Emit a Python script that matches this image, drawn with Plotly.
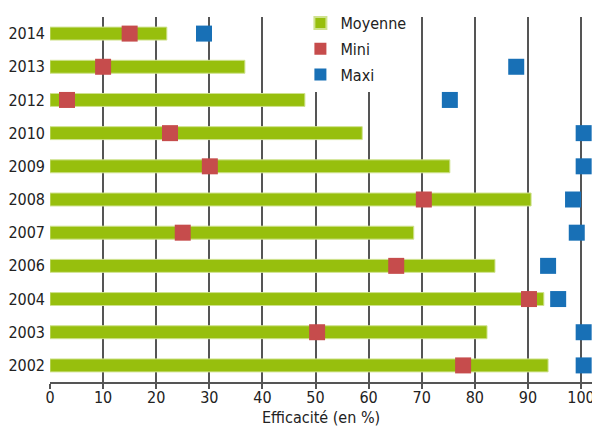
import plotly.graph_objects as go

years = ["2014", "2013", "2012", "2010", "2009", "2008", "2007", "2006", "2004", "2003", "2002"]
moyenne = [22, 36.7, 48, 58.8, 75.3, 90.6, 68.5, 83.8, 93, 82.3, 93.8]
mini = [15, 10, 3.2, 22.6, 30.1, 70.4, 25, 65.2, 90.2, 50.3, 77.8]
maxi = [29, 87.8, 75.3, 100.5, 100.5, 98.5, 99.2, 93.8, 95.7, 100.5, 100.5]
x_ticks = [0, 10, 20, 30, 40, 50, 60, 70, 80, 90, 100]

FONT = "DejaVu Sans Condensed, Liberation Sans Narrow, Roboto, sans-serif"
GREEN = "#97bf0d"
RED = "#c64c4c"
BLUE = "#1870b6"

fig = go.Figure()
fig.add_trace(go.Bar(
    x=moyenne, y=years, orientation="h", name="Moyenne",
    width=0.39, marker=dict(color=GREEN, line=dict(color="#cfe28e", width=1)),
    legendgroup="a",
))
fig.add_trace(go.Scatter(
    x=mini, y=years, mode="markers", name="Mini", cliponaxis=False,
    marker=dict(symbol="square", size=16, color=RED), legendgroup="b",
))
fig.add_trace(go.Scatter(
    x=maxi, y=years, mode="markers", name="Maxi", cliponaxis=False,
    marker=dict(symbol="square", size=16, color=BLUE), legendgroup="c",
))

fig.update_layout(
    width=592, height=427,
    margin=dict(l=50, r=0, t=17, b=45, autoexpand=False),
    paper_bgcolor="white", plot_bgcolor="white",
    font=dict(family=FONT, size=16, color="#222"),
    showlegend=True,
    legend=dict(
        x=0.462, y=1.03, xanchor="left", yanchor="top",
        bgcolor="white", itemsizing="constant", tracegroupgap=2,
        font=dict(family=FONT, size=16, color="#222"),
    ),
    xaxis=dict(
        range=[0, 102.07], tickvals=x_ticks, ticktext=[str(v) for v in x_ticks],
        showgrid=True, gridcolor="#555", gridwidth=2,
        zeroline=True, zerolinecolor="white", zerolinewidth=3,
        showline=True, linecolor="#555", linewidth=2,
        ticks="outside", ticklen=5, tickwidth=2, tickcolor="#555",
        ticklabeloverflow="allow", ticklabelstandoff=-5,
        automargin=False, fixedrange=True,
    ),
    yaxis=dict(
        range=[-0.5, 10.5],
        categoryorder="array", categoryarray=years[::-1],
        showgrid=False, zeroline=False, showline=False, ticks="",
        ticklabelstandoff=4, automargin=False, fixedrange=True,
    ),
    annotations=[dict(
        text="Efficacité (en %)", xref="paper", yref="paper", x=0.5, y=0,
        xanchor="center", yanchor="top", yshift=-24, showarrow=False,
        font=dict(family=FONT, size=16, color="#222"),
    )],
)

fig.write_html(
    "out.html",
    config={"displayModeBar": False},
    post_script="document.body.style.margin='0';document.body.style.overflow='hidden';",
)
